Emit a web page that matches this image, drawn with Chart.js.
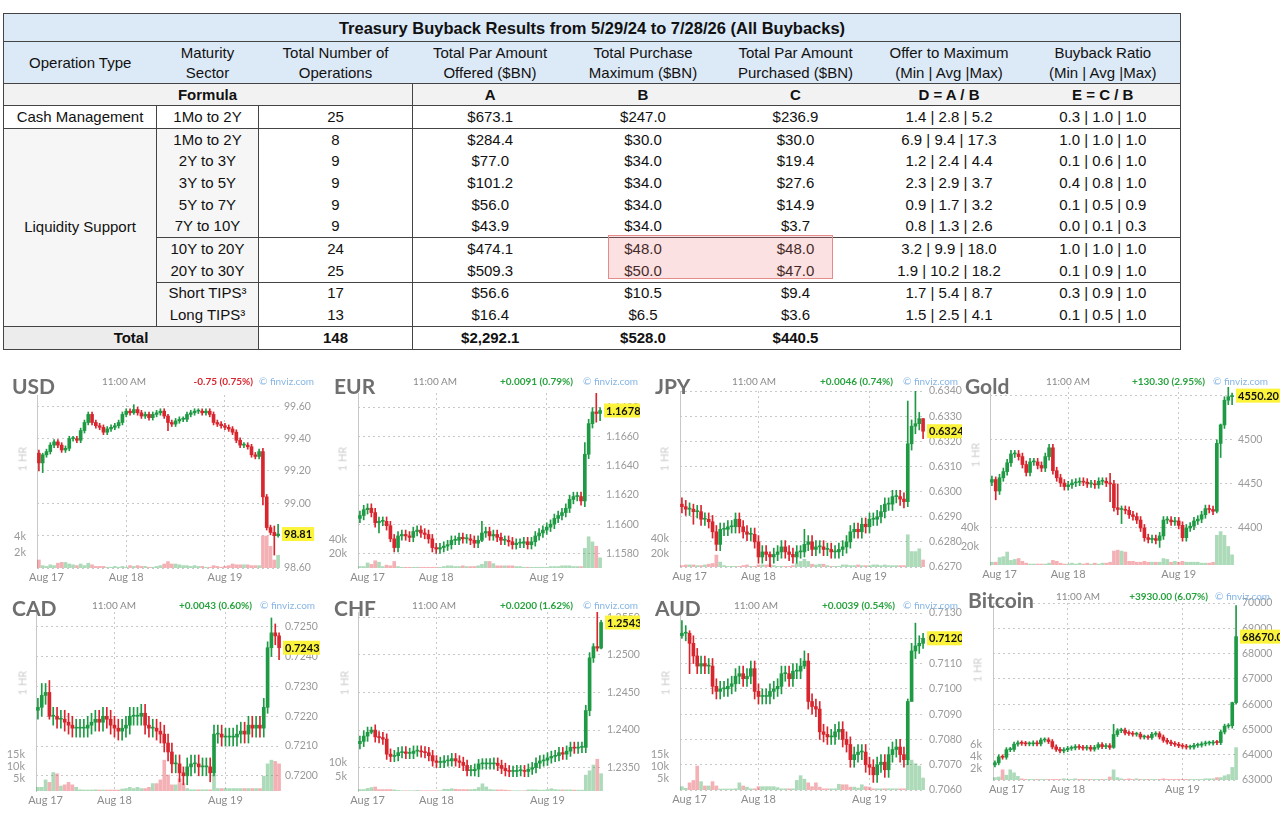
<!DOCTYPE html>
<html lang="en">
<head>
<meta charset="UTF-8">
<title>Treasury Buyback Results and FX moves</title>
<script src="https://cdn.jsdelivr.net/npm/chart.js"></script>
<style>
  body { margin: 0; width: 1280px; height: 819px; overflow: hidden; background: #fff; font-family: 'Liberation Sans', Arial, sans-serif; position: relative; }
  #tableWrap { position: absolute; left: 3px; top: 13px; }
  #buyback { border-collapse: collapse; table-layout: fixed; border: 1px solid #444; color: #111; font-size: 15px; }
  #buyback td { padding: 0; text-align: center; white-space: nowrap; height: 21.7px; line-height: 18px; }
  #buyback tr.title td { background: #dce9f7; font-weight: bold; font-size: 16.5px; height: 27px; border-bottom: 1px solid #444; }
  #buyback tr.head td { background: #dce9f7; height: 41px; line-height: 20px; border-bottom: 1px solid #444; }
  #buyback tr.formula td { background: #f2f2f2; font-weight: bold; height: 21px; border-bottom: 1px solid #444; }
  #buyback tr.total td { height: 22px; font-weight: bold; border-top: 1px solid #444; }
  #buyback td.vr { border-right: 1px solid #444; }
  #buyback td.bb { border-bottom: 1px solid #444; }
  #buyback td.liq { background: #f6f6f6; }
  #buyback td.tot { background: #ececec; }
  .hilite { position: absolute; left: 605px; top: 222px; width: 223px; height: 42px; background: rgba(236, 120, 120, 0.22); border: 1px solid #e48c8c; }
  .panel { position: absolute; }
  .panel canvas { position: absolute; left: 0; top: 0; }
  .ttl { position: absolute; font-family: Lato, sans-serif; font-weight: bold; font-size: 21px; line-height: 21px; color: #6f6f6f; white-space: nowrap; }
  .tm { position: absolute; width: 60px; text-align: center; font-family: Lato, sans-serif; font-size: 10px; line-height: 12px; color: #8a8a8a; white-space: nowrap; }
  .chg { position: absolute; font-family: Lato, sans-serif; font-weight: bold; font-size: 10px; line-height: 12px; text-align: right; white-space: nowrap; }
  .fv { position: absolute; font-family: Lato, sans-serif; font-size: 10px; line-height: 12px; color: #86b6e6; white-space: nowrap; }
  .hr { position: absolute; font-family: Lato, sans-serif; font-size: 11px; color: #cfcfcf; transform: translate(-50%, -50%) rotate(-90deg); white-space: nowrap; }
</style>
</head>
<body>
<div id="tableWrap">
  <table id="buyback"></table>
  <div class="hilite"></div>
</div>
<div id="panels"></div>

<script>
// ---------- table data ----------
const tableTitle = 'Treasury Buyback Results from 5/29/24 to 7/28/26 (All Buybacks)';
const headers = ['Operation Type', 'Maturity<br>Sector', 'Total Number of<br>Operations', 'Total Par Amount<br>Offered ($BN)',
  'Total Purchase<br>Maximum ($BN)', 'Total Par Amount<br>Purchased ($BN)', 'Offer to Maximum<br>(Min | Avg |Max)', 'Buyback Ratio<br>(Min | Avg |Max)'];
const formulas = ['A', 'B', 'C', 'D = A / B', 'E = C / B'];
const sectors = ['1Mo to 2Y', '1Mo to 2Y', '2Y to 3Y', '3Y to 5Y', '5Y to 7Y', '7Y to 10Y', '10Y to 20Y', '20Y to 30Y', 'Short TIPS³', 'Long TIPS³'];
const numOps = [25, 8, 9, 9, 9, 9, 24, 25, 17, 13];
const parOffered = ['$673.1', '$284.4', '$77.0', '$101.2', '$56.0', '$43.9', '$474.1', '$509.3', '$56.6', '$16.4'];
const purchaseMax = ['$247.0', '$30.0', '$34.0', '$34.0', '$34.0', '$34.0', '$48.0', '$50.0', '$10.5', '$6.5'];
const parPurchased = ['$236.9', '$30.0', '$19.4', '$27.6', '$14.9', '$3.7', '$48.0', '$47.0', '$9.4', '$3.6'];
const offerToMax = ['1.4 | 2.8 | 5.2', '6.9 | 9.4 | 17.3', '1.2 | 2.4 | 4.4', '2.3 | 2.9 | 3.7', '0.9 | 1.7 | 3.2',
  '0.8 | 1.3 | 2.6', '3.2 | 9.9 | 18.0', '1.9 | 10.2 | 18.2', '1.7 | 5.4 | 8.7', '1.5 | 2.5 | 4.1'];
const buybackRatio = ['0.3 | 1.0 | 1.0', '1.0 | 1.0 | 1.0', '0.1 | 0.6 | 1.0', '0.4 | 0.8 | 1.0', '0.1 | 0.5 | 0.9',
  '0.0 | 0.1 | 0.3', '1.0 | 1.0 | 1.0', '0.1 | 0.9 | 1.0', '0.3 | 0.9 | 1.0', '0.1 | 0.5 | 1.0'];
const totals = ['148', '$2,292.1', '$528.0', '$440.5'];

// ---------- candle data (first value = open of first candle, then closes) ----------
const usdPrice = [99.31,
  99.25, 99.30, 99.32, 99.36, 99.38, 99.36, 99.33, 99.34,
  99.40, 99.40, 99.39, 99.45, 99.50, 99.55, 99.50, 99.48,
  99.47, 99.44, 99.46, 99.47, 99.48, 99.50, 99.55, 99.57,
  99.56, 99.58, 99.56, 99.54, 99.55, 99.53, 99.55, 99.56,
  99.57, 99.54, 99.50, 99.49, 99.51, 99.52, 99.52, 99.55,
  99.56, 99.57, 99.57, 99.56, 99.57, 99.55, 99.50, 99.49,
  99.48, 99.47, 99.46, 99.44, 99.39, 99.36, 99.36, 99.35,
  99.30, 99.29, 99.32, 99.04, 98.85, 98.82, 98.80, 98.81];
const usdVol = [
  1.0, 0.3, 0.2, 0.4, 0.3, 0.6, 0.7, 0.7,
  0.5, 0.4, 0.3, 0.5, 0.3, 0.6, 0.4, 0.2,
  0.2, 0.2, 0.1, 0.1, 0.2, 0.1, 0.2, 0.1,
  0.3, 0.2, 0.3, 0.2, 0.2, 0.1, 0.1, 0.2,
  0.3, 0.5, 0.8, 0.5, 0.5, 0.4, 0.3, 0.3,
  0.2, 0.3, 0.2, 0.2, 0.1, 0.1, 0.3, 0.2,
  0.1, 0.2, 0.3, 0.5, 0.4, 0.4, 0.4, 0.4,
  0.3, 0.3, 0.3, 4.0, 4.0, 2.7, 1.0, 1.6];
const usdSpikes = [[0, 99.33, 99.20], [1, 99.31, 99.19], [25, 99.61, 99.55], [34, 99.55, 99.45], [59, 99.34, 98.99], [62, 98.86, 98.68], [63, 98.87, 98.79]];
const usdTicks = [98.60, 98.80, 99.00, 99.20, 99.40, 99.60];
const usdVolTicks = [2, 4];

const eurPrice = [1.1604,
  1.1606, 1.1610, 1.1611, 1.1608, 1.1601, 1.1602, 1.1602, 1.1599,
  1.1590, 1.1584, 1.1592, 1.1593, 1.1592, 1.1591, 1.1595, 1.1596,
  1.1594, 1.1593, 1.1590, 1.1584, 1.1583, 1.1584, 1.1585, 1.1586,
  1.1589, 1.1589, 1.1591, 1.1590, 1.1590, 1.1589, 1.1587, 1.1589,
  1.1594, 1.1595, 1.1592, 1.1593, 1.1591, 1.1589, 1.1589, 1.1588,
  1.1586, 1.1587, 1.1587, 1.1588, 1.1586, 1.1588, 1.1592, 1.1594,
  1.1596, 1.1598, 1.1600, 1.1604, 1.1606, 1.1608, 1.1611, 1.1617,
  1.1619, 1.1619, 1.1616, 1.1648, 1.1669, 1.1677, 1.1676, 1.1678];
const eurVol = [
  2, 2, 7, 5, 10, 8, 2, 4,
  3, 9, 2, 1, 1, 1, 1, 1,
  1, 1, 1, 1, 1, 1, 2, 3,
  3, 2, 2, 3, 2, 2, 2, 3,
  5, 9, 9, 6, 3, 3, 3, 3,
  3, 2, 2, 1, 1, 1, 1, 1,
  1, 1, 2, 2, 2, 3, 3, 3,
  2, 2, 2, 27, 43, 36, 30, 14];
const eurSpikes = [[5, 1.1605, 1.1594], [8, 1.1602, 1.1588], [32, 1.1602, 1.1588], [59, 1.1656, 1.1612], [62, 1.1690, 1.1670], [63, 1.1680, 1.1671]];
const eurTicks = [1.1580, 1.1600, 1.1620, 1.1640, 1.1660, 1.1680];
const eurVolTicks = [20, 40];

const jpyPrice = [0.6295,
  0.6294, 0.6293, 0.6293, 0.6292, 0.6292, 0.6289, 0.6289, 0.6288,
  0.6284, 0.6279, 0.6285, 0.6285, 0.6286, 0.6286, 0.6289, 0.6286,
  0.6284, 0.6283, 0.6283, 0.6280, 0.6274, 0.6276, 0.6275, 0.6274,
  0.6275, 0.6276, 0.6278, 0.6276, 0.6275, 0.6274, 0.6276, 0.6276,
  0.6279, 0.6280, 0.6277, 0.6278, 0.6278, 0.6277, 0.6277, 0.6276,
  0.6276, 0.6277, 0.6278, 0.6280, 0.6284, 0.6285, 0.6284, 0.6287,
  0.6286, 0.6289, 0.6289, 0.6290, 0.6292, 0.6295, 0.6295, 0.6298,
  0.6298, 0.6297, 0.6296, 0.6319, 0.6326, 0.6327, 0.6329, 0.6324];
const jpyVol = [
  2, 3, 3, 3, 2, 2, 3, 4,
  5, 17, 7, 2, 1, 1, 1, 1,
  2, 3, 1, 1, 3, 3, 3, 3,
  2, 1, 1, 1, 1, 2, 5, 8,
  11, 8, 4, 3, 4, 4, 2, 1,
  1, 1, 3, 3, 2, 2, 3, 2,
  2, 2, 3, 3, 2, 3, 2, 2,
  2, 2, 2, 46, 22, 22, 26, 10];
const jpySpikes = [[3, 0.6295, 0.6287], [23, 0.6276, 0.6270], [32, 0.6285, 0.6274], [59, 0.6336, 0.6294], [61, 0.6340, 0.6323], [63, 0.6329, 0.6321]];
const jpyTicks = [0.6270, 0.6280, 0.6290, 0.6300, 0.6310, 0.6320, 0.6330, 0.6340];
const jpyVolTicks = [20, 40];

const goldPrice = [4452,
  4455, 4442, 4457, 4464, 4474, 4484, 4484, 4481,
  4472, 4463, 4475, 4475, 4471, 4468, 4481, 4491,
  4465, 4457, 4451, 4447, 4449, 4451, 4452, 4453,
  4452, 4450, 4450, 4449, 4453, 4453, 4451, 4450,
  4423, 4421, 4421, 4420, 4415, 4413, 4409, 4400,
  4389, 4387, 4388, 4386, 4391, 4409, 4409, 4407,
  4408, 4403, 4389, 4400, 4402, 4408, 4410, 4415,
  4422, 4421, 4419, 4496, 4517, 4545, 4549, 4550.2];
const goldVol = [
  3, 3, 8, 9, 14, 5, 6, 7,
  4, 2, 1, 1, 1, 1, 1, 2,
  5, 4, 2, 1, 1, 2, 1, 2,
  1, 2, 1, 2, 1, 2, 2, 3,
  15, 16, 15, 14, 4, 4, 3, 3,
  4, 3, 3, 3, 3, 7, 6, 3,
  4, 3, 4, 3, 3, 3, 3, 2,
  2, 2, 3, 32, 36, 32, 20, 11];
const goldSpikes = [[1, 4458, 4432], [31, 4462, 4430], [33, 4450, 4415], [34, 4425, 4405], [44, 4395, 4378], [59, 4500, 4417], [60, 4518, 4480], [62, 4560, 4540], [63, 4553, 4540]];
const goldTicks = [4400, 4450, 4500, 4550];
const goldVolTicks = [20, 40];

const cadPrice = [0.7222,
  0.7223, 0.7227, 0.7228, 0.7220, 0.7220, 0.7219, 0.7219, 0.7218,
  0.7217, 0.7216, 0.7216, 0.7216, 0.7216, 0.7217, 0.7218, 0.7219,
  0.7218, 0.7220, 0.7219, 0.7217, 0.7216, 0.7215, 0.7216, 0.7217,
  0.7220, 0.7220, 0.7220, 0.7221, 0.7217, 0.7216, 0.7216, 0.7215,
  0.7214, 0.7211, 0.7208, 0.7204, 0.7204, 0.7201, 0.7200, 0.7203,
  0.7204, 0.7204, 0.7203, 0.7203, 0.7203, 0.7201, 0.7214, 0.7214,
  0.7213, 0.7213, 0.7213, 0.7213, 0.7214, 0.7215, 0.7214, 0.7217,
  0.7216, 0.7217, 0.7216, 0.7223, 0.7243, 0.7248, 0.7247, 0.7243];
const cadVol = [
  1.5, 1.5, 4.5, 3.5, 7.5, 7, 2, 2.5,
  3.5, 2.5, 1.5, 0.5, 0.4, 0.4, 0.4, 0.5,
  0.4, 0.4, 0.4, 0.4, 0.4, 0.4, 0.8, 1,
  1.5, 1, 1.5, 1, 1, 1.5, 3, 3,
  4.5, 12.5, 6.5, 2.5, 2.5, 5, 3, 1,
  0.5, 0.5, 0.5, 0.5, 0.5, 0.5, 7, 1,
  1, 1, 1, 1, 1, 1, 1, 1,
  1, 1, 1, 6, 11, 12.5, 12, 11];
const cadSpikes = [[1, 0.7231, 0.7220], [3, 0.7232, 0.7219], [38, 0.7203, 0.7197], [46, 0.7217, 0.7200], [60, 0.7245, 0.7221], [61, 0.7253, 0.7240], [63, 0.7248, 0.7239]];
const cadTicks = [0.7200, 0.7210, 0.7220, 0.7230, 0.7240, 0.7250];
const cadVolTicks = [5, 10, 15];

const chfPrice = [1.2382,
  1.2385, 1.2392, 1.2397, 1.2400, 1.2391, 1.2390, 1.2388, 1.2368,
  1.2365, 1.2366, 1.2370, 1.2371, 1.2369, 1.2369, 1.2372, 1.2372,
  1.2371, 1.2370, 1.2366, 1.2359, 1.2357, 1.2357, 1.2359, 1.2359,
  1.2362, 1.2359, 1.2357, 1.2353, 1.2346, 1.2346, 1.2348, 1.2355,
  1.2355, 1.2355, 1.2355, 1.2356, 1.2353, 1.2349, 1.2346, 1.2345,
  1.2345, 1.2346, 1.2346, 1.2345, 1.2348, 1.2350, 1.2356, 1.2359,
  1.2360, 1.2363, 1.2365, 1.2366, 1.2370, 1.2368, 1.2372, 1.2377,
  1.2376, 1.2377, 1.2377, 1.2426, 1.2496, 1.2511, 1.2509, 1.2543];
const chfVol = [
  0.5, 0.5, 0.9, 1.2, 1.4, 0.5, 0.5, 0.5,
  0.5, 0.4, 0.2, 0.1, 0.1, 0.1, 0.1, 0.2,
  0.1, 0.1, 0.1, 0.1, 0.1, 0.1, 0.6, 0.6,
  0.8, 0.6, 0.5, 0.5, 0.5, 0.5, 0.6, 1.2,
  2.5, 1.4, 0.5, 0.4, 0.4, 0.4, 0.3, 0.2,
  0.1, 0.1, 0.1, 0.1, 0.4, 0.4, 0.4, 0.3,
  0.3, 0.5, 0.8, 0.5, 0.4, 0.4, 0.4, 0.4,
  0.3, 0.3, 0.3, 5.5, 7, 9, 11, 6];
const chfSpikes = [[3, 1.2404, 1.2395], [31, 1.2361, 1.2338], [61, 1.2515, 1.2490], [62, 1.2558, 1.2505], [63, 1.2546, 1.2508]];
const chfTicks = [1.2350, 1.2400, 1.2450, 1.2500, 1.2550];
const chfVolTicks = [5, 10];

const audPrice = [0.7121,
  0.7122, 0.7122, 0.7118, 0.7113, 0.7109, 0.7110, 0.7109, 0.7109,
  0.7101, 0.7099, 0.7100, 0.7100, 0.7101, 0.7102, 0.7105, 0.7106,
  0.7104, 0.7105, 0.7108, 0.7099, 0.7097, 0.7097, 0.7097, 0.7099,
  0.7100, 0.7101, 0.7106, 0.7106, 0.7104, 0.7107, 0.7107, 0.7109,
  0.7111, 0.7095, 0.7093, 0.7092, 0.7083, 0.7082, 0.7081, 0.7081,
  0.7083, 0.7084, 0.7080, 0.7078, 0.7072, 0.7074, 0.7075, 0.7075,
  0.7070, 0.7069, 0.7066, 0.7070, 0.7071, 0.7068, 0.7074, 0.7076,
  0.7077, 0.7074, 0.7072, 0.7095, 0.7115, 0.7117, 0.7118, 0.7120];
const audVol = [
  1.4, 0.7, 3, 4, 10, 3.5, 1.7, 1.7,
  3.5, 1.7, 0.4, 0.4, 0.4, 0.4, 0.5, 3,
  1.7, 1.2, 0.5, 0.5, 1.4, 1.4, 1.4, 1.4,
  1.4, 1, 0.5, 0.5, 0.5, 0.5, 4, 6,
  4.5, 3, 1.4, 3, 1.2, 0.5, 0.5, 0.5,
  0.5, 2.4, 2.2, 2.2, 1.2, 1.2, 0.8, 2.2,
  1.4, 1.2, 0.5, 0.5, 0.5, 0.5, 0.5, 0.5,
  0.5, 0.5, 0.5, 13, 12.5, 11, 10, 5];
const audSpikes = [[0, 0.7127, 0.7120], [2, 0.7123, 0.7106], [32, 0.7115, 0.7108], [59, 0.7096, 0.7070], [60, 0.7118, 0.7098], [61, 0.7126, 0.7112], [63, 0.7122, 0.7116]];
const audTicks = [0.7060, 0.7070, 0.7080, 0.7090, 0.7100, 0.7110, 0.7120, 0.7130];
const audVolTicks = [5, 10, 15];

const btcPrice = [63600,
  63680, 63915, 63900, 64200, 64210, 64420, 64470, 64450,
  64430, 64430, 64470, 64430, 64580, 64590, 64520, 64310,
  64210, 64150, 64200, 64250, 64270, 64320, 64290, 64260,
  64290, 64220, 64290, 64400, 64320, 64360, 64290, 64800,
  64950, 64970, 64860, 64840, 64810, 64810, 64700, 64700,
  64680, 64810, 64830, 64700, 64570, 64500, 64440, 64410,
  64360, 64330, 64300, 64300, 64370, 64380, 64430, 64460,
  64460, 64490, 64480, 64900, 65130, 65150, 66060, 68670];
const btcVol = [
  0.4, 0.5, 1.7, 0.8, 1.7, 1.2, 0.6, 0.2,
  0.1, 0.1, 0.1, 0.1, 0.1, 0.1, 0.1, 0.1,
  0.1, 0.1, 0.2, 0.1, 0.1, 0.2, 0.1, 0.1,
  0.1, 0.1, 0.1, 0.1, 0.1, 0.1, 0.5, 1.7,
  0.4, 0.2, 0.1, 0.2, 0.1, 0.2, 0.1, 0.1,
  0.1, 0.1, 0.1, 0.1, 0.2, 0.1, 0.1, 0.1,
  0.1, 0.1, 0.1, 0.1, 0.1, 0.1, 0.1, 0.2,
  0.2, 0.2, 0.4, 0.4, 0.7, 0.9, 2.1, 5.4];
const btcSpikes = [[31, 65200, 64250], [62, 66080, 65050], [63, 69900, 66000]];
const btcTicks = [63000, 64000, 65000, 66000, 67000, 68000, 69000, 70000];
const btcVolTicks = [2, 4, 6];

const dayLabels = ['Aug 17', 'Aug 18', 'Aug 19'];

// ---------- panels (layout + references to the arrays above) ----------
const panels = [
  { name: 'USD', price: usdPrice, vol: usdVol, spikes: usdSpikes, ticks: usdTicks, volTicks: usdVolTicks, days: [2, 23, 49],
    min: 98.60, max: 99.67, volMax: 21.6, dec: 2, wick: 0.015, last: '98.81', change: '-0.75 (0.75%)', up: false,
    box: [0, 365, 320], area: [37, 40, 30, 203], head: [12, 14, 16, 124, 253, 259], hr: [22, 94] },
  { name: 'EUR', price: eurPrice, vol: eurVol, spikes: eurSpikes, ticks: eurTicks, volTicks: eurVolTicks, days: [2, 20, 49],
    min: 1.1570, max: 1.1690, volMax: 241, dec: 4, wick: 0.0003, last: '1.1678', change: '+0.0091 (0.79%)', up: true,
    box: [320, 365, 320], area: [38, 38, 28, 203], head: [14, 14, 16, 115, 253, 263], hr: [22, 94] },
  { name: 'JPY', price: jpyPrice, vol: jpyVol, spikes: jpySpikes, ticks: jpyTicks, volTicks: jpyVolTicks, days: [2, 20, 49],
    min: 0.6270, max: 0.6340, volMax: 251, dec: 4, wick: 0.00025, last: '0.6324', change: '+0.0046 (0.74%)', up: true,
    box: [640, 365, 322], area: [40, 37, 26, 202], head: [15, 14, 16, 114, 253, 263], hr: [24, 94] },
  { name: 'Gold', price: goldPrice, vol: goldVol, spikes: goldSpikes, ticks: goldTicks, volTicks: goldVolTicks, days: [2, 20, 49],
    min: 4358, max: 4560, volMax: 192, dec: 0, wick: 4, last: '4550.20', change: '+130.30 (2.95%)', up: true,
    box: [958, 365, 322], area: [32, 46, 22, 200], head: [7, 14, 16, 110, 247, 255], hr: [17, 90] },
  { name: 'CAD', price: cadPrice, vol: cadVol, spikes: cadSpikes, ticks: cadTicks, volTicks: cadVolTicks, days: [2, 20, 49],
    min: 0.71949, max: 0.7255, volMax: 72.6, dec: 4, wick: 0.0003, last: '0.7243', change: '+0.0043 (0.60%)', up: true,
    box: [0, 590, 320], area: [36, 39, 22, 201], head: [12, 11, 15, 114, 252, 260], hr: [22, 93] },
  { name: 'CHF', price: chfPrice, vol: chfVol, spikes: chfSpikes, ticks: chfTicks, volTicks: chfVolTicks, days: [2, 20, 49],
    min: 1.2319, max: 1.2557, volMax: 62, dec: 4, wick: 0.0007, last: '1.2543', change: '+0.0200 (1.62%)', up: true,
    box: [320, 590, 320], area: [38, 37, 22, 201], head: [14, 11, 15, 114, 253, 263], hr: [24, 93] },
  { name: 'AUD', price: audPrice, vol: audVol, spikes: audSpikes, ticks: audTicks, volTicks: audVolTicks, days: [2, 20, 49],
    min: 0.7060, max: 0.7130, volMax: 74, dec: 4, wick: 0.0003, last: '0.7120', change: '+0.0039 (0.54%)', up: true,
    box: [640, 590, 322], area: [40, 37, 23, 200], head: [15, 11, 15, 116, 255, 263], hr: [25, 93] },
  { name: 'Bitcoin', price: btcPrice, vol: btcVol, spikes: btcSpikes, ticks: btcTicks, volTicks: btcVolTicks, days: [3, 19, 49],
    min: 63000, max: 70000, volMax: 29.5, dec: 0, wick: 80, last: '68670.00', change: '+3930.00 (6.07%)', up: true,
    box: [958, 590, 322], area: [35, 42, 13, 190], head: [10, 3, 6, 120, 250, 257], hr: [19, 80] }
];

// ---------- table ----------
const colWidths = [153, 102, 154, 155, 151, 154, 153, 155];
(function buildTable() {
  let h = '<colgroup>' + colWidths.map(w => `<col style="width:${w}px">`).join('') + '</colgroup>';
  h += `<tr class="title"><td colspan="8">${tableTitle}</td></tr>`;
  h += '<tr class="head">' + headers.map(t => `<td>${t}</td>`).join('') + '</tr>';
  h += '<tr class="formula"><td></td><td>Formula</td><td class="vr"></td>' + formulas.map(f => `<td>${f}</td>`).join('') + '</tr>';
  for (let i = 0; i < sectors.length; i++) {
    const full = i === 0 || i === sectors.length - 1;
    const grp = full || i === 5 || i === 7;
    const bb = grp ? ' bb' : '';
    const liq = i > 0 ? ' liq' : '';
    h += '<tr>';
    if (i === 0) h += '<td class="vr bb">Cash Management</td>';
    if (i === 1) h += `<td class="vr bb liq" rowspan="${sectors.length - 1}">Liquidity Support</td>`;
    h += `<td class="vr${bb}${liq}">${sectors[i]}</td>`;
    h += `<td class="vr${bb}">${numOps[i]}</td>`;
    h += `<td class="${bb}">${parOffered[i]}</td><td class="${bb}">${purchaseMax[i]}</td><td class="${bb}">${parPurchased[i]}</td>`;
    h += `<td class="${bb}">${offerToMax[i]}</td><td class="${bb}">${buybackRatio[i]}</td>`;
    h += '</tr>';
  }
  h += `<tr class="total"><td colspan="2" class="vr tot">Total</td><td class="vr">${totals[0]}</td>` +
    `<td>${totals[1]}</td><td>${totals[2]}</td><td>${totals[3]}</td><td></td><td></td></tr>`;
  document.getElementById('buyback').innerHTML = h;
})();

// ---------- candlestick charts ----------
const UP = '#1f9a44', DOWN = '#d8262f';
const UP_VOL = 'rgba(40,160,70,0.38)', DOWN_VOL = 'rgba(225,50,60,0.38)';
const GRID = '#c8c8c8';
const DASH = [2, 3];

const lastTag = {
  id: 'lastTag',
  afterDraw(chart, args, opts) {
    if (!opts || !opts.text) return;
    const { ctx, chartArea, scales } = chart;
    const y = scales.y.getPixelForValue(opts.value);
    ctx.save();
    ctx.font = 'bold 11px Lato';
    const w = ctx.measureText(opts.text).width + 4;
    ctx.fillStyle = '#fbf43a';
    ctx.fillRect(chartArea.right + 2, y - 7, w, 14);
    ctx.fillStyle = '#111';
    ctx.textBaseline = 'middle';
    ctx.fillText(opts.text, chartArea.right + 4, y + 0.5);
    ctx.restore();
  }
};
Chart.register(lastTag);

function buildPanel(p) {
  const [left, top, W] = p.box;
  const H = 225;
  const [L, R, T, B] = p.area;
  const wrap = document.createElement('div');
  wrap.className = 'panel';
  wrap.style.cssText = `left:${left}px;top:${top}px;width:${W}px;height:${H}px`;
  const [tx, ty, sy, tmX, chgR, fvX] = p.head;
  wrap.innerHTML =
    `<canvas width="${W}" height="${H}" style="width:${W}px;height:${H}px"></canvas>` +
    `<div class="ttl" style="left:${tx}px;top:${ty - 4}px">${p.name}</div>` +
    `<div class="tm" style="left:${tmX - 30}px;top:${sy - 6}px">11:00 AM</div>` +
    `<div class="chg" style="right:${W - chgR}px;top:${sy - 6}px;color:${p.up ? '#27a33e' : '#d8262f'}">${p.change}</div>` +
    `<div class="fv" style="left:${fvX}px;top:${sy - 6}px">© finviz.com</div>` +
    `<div class="hr" style="left:${p.hr[0]}px;top:${p.hr[1]}px">1 HR</div>`;
  document.getElementById('panels').appendChild(wrap);

  const n = p.vol.length;
  const opens = p.price.slice(0, n);
  const closes = p.price.slice(1, n + 1);
  const rising = closes.map((c, i) => c >= opens[i]);
  const highs = opens.map((o, i) => Math.max(o, closes[i]) + p.wick);
  const lows = opens.map((o, i) => Math.min(o, closes[i]) - p.wick);
  p.spikes.forEach(([i, hi, lo]) => { highs[i] = hi; lows[i] = lo; });
  const colors = rising.map(r => r ? UP : DOWN);

  new Chart(wrap.querySelector('canvas'), {
    type: 'bar',
    data: {
      labels: p.vol.map((_, i) => i),
      datasets: [
        { data: opens.map((o, i) => [o, closes[i]]), backgroundColor: colors, barThickness: 3, minBarLength: 1, grouped: false, yAxisID: 'y', order: 0 },
        { data: lows.map((l, i) => [l, highs[i]]), backgroundColor: colors, barThickness: 1, grouped: false, yAxisID: 'y', order: 1 },
        { data: p.vol, backgroundColor: rising.map(r => r ? UP_VOL : DOWN_VOL), barThickness: 3, grouped: false, yAxisID: 'yv', order: 2 }
      ]
    },
    options: {
      responsive: false,
      animation: false,
      layout: { padding: { top: T, left: 0, right: 0, bottom: 0 }, autoPadding: false },
      plugins: { legend: { display: false }, tooltip: { enabled: false }, lastTag: { value: closes[n - 1], text: p.last } },
      scales: {
        x: {
          offset: true,
          border: { display: false, dash: DASH },
          grid: {
            offset: false, drawTicks: false, lineWidth: 1,
            color: ctx => p.days.slice(1).includes(ctx.index) ? GRID : 'rgba(0,0,0,0)'
          },
          ticks: {
            autoSkip: false, maxRotation: 0, padding: 3, color: '#8c8c8c', font: { family: 'Lato', size: 11 },
            callback: (v, i) => { const k = p.days.indexOf(i); return k >= 0 ? dayLabels[k] : ''; }
          },
          afterFit: s => { s.height = H - B; }
        },
        y: {
          position: 'right', min: p.min, max: p.max,
          border: { display: false, dash: DASH },
          grid: { color: GRID, drawTicks: false },
          ticks: { padding: 4, color: '#9a9a9a', font: { family: 'Lato', size: 10.5 }, callback: v => Number(v).toFixed(p.dec) },
          afterBuildTicks: s => { s.ticks = p.ticks.map(v => ({ value: v })); },
          afterFit: s => { s.width = R; }
        },
        yv: {
          position: 'left', min: 0, max: p.volMax,
          border: { display: true, color: GRID, dash: DASH },
          grid: { display: false },
          ticks: { padding: 3, color: '#9a9a9a', font: { family: 'Lato', size: 11 }, callback: v => v + 'k' },
          afterBuildTicks: s => { s.ticks = p.volTicks.map(v => ({ value: v })); },
          afterFit: s => { s.width = L; }
        }
      }
    }
  });
}

panels.forEach(buildPanel);
</script>
</body>
</html>
